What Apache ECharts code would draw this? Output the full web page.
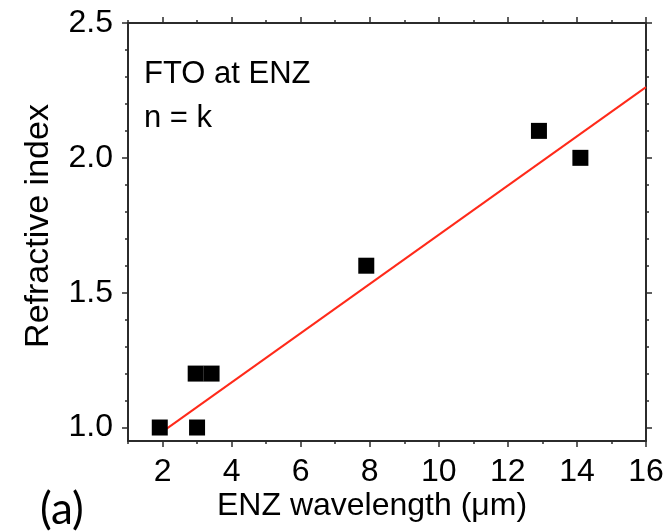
<!DOCTYPE html>
<html>
<head>
<meta charset="utf-8">
<script src="https://cdn.jsdelivr.net/npm/echarts@6/dist/echarts.min.js"></script>
<style>
html,body{margin:0;padding:0;background:#fff;}
#chart{width:668px;height:531px;}
</style>
</head>
<body>
<div id="chart"></div>
<script>
// Data
var pointsX = [1.92, 3.0, 2.96, 3.42, 7.9, 12.9, 14.1];
var pointsY = [1.0, 1.0, 1.2, 1.2, 1.6, 2.1, 2.0];
var fitX = [2.0, 16.0];
var fitY = [0.985, 2.262];

var xMajorTicks = [2, 4, 6, 8, 10, 12, 14, 16];
var xMinorTicks = [1, 3, 5, 7, 9, 11, 13, 15];
var yMajorTicks = [1.0, 1.5, 2.0, 2.5];
var yMinorTicks = [1.1, 1.2, 1.3, 1.4, 1.6, 1.7, 1.8, 1.9, 2.1, 2.2, 2.3, 2.4];

var xTitle = 'ENZ wavelength (\u03bcm)';
var yTitle = 'Refractive index';
var note1 = 'FTO at ENZ';
var note2 = 'n = k';
var panel = '(a)';

var FONT = 'Liberation Sans, Arial, sans-serif';
var AX = '#2b2b2b';

var scatterData = pointsX.map(function (x, i) { return [x, pointsY[i]]; });
var lineData = fitX.map(function (x, i) { return [x, fitY[i]]; });

var chart = echarts.init(document.getElementById('chart'), null, {renderer: 'canvas'});

function xAxisBase(pos, ticks, len, showLabel, showLine) {
  return {
    type: 'value', position: pos, min: 1, max: 16,
    axisLine: {show: showLine, onZero: false, lineStyle: {color: AX, width: 2}},
    axisTick: {show: true, inside: false, length: len, customValues: ticks, lineStyle: {color: AX, width: 1.5}},
    axisLabel: {show: showLabel, customValues: xMajorTicks, margin: 15, color: '#000', fontSize: 32, fontFamily: FONT,
      formatter: function (v) { return String(v); }},
    splitLine: {show: false}
  };
}
function yAxisBase(pos, ticks, len, showLabel, showLine) {
  return {
    type: 'value', position: pos, min: 0.95, max: 2.5,
    axisLine: {show: showLine, onZero: false, lineStyle: {color: AX, width: 2}},
    axisTick: {show: true, inside: false, length: len, customValues: ticks, lineStyle: {color: AX, width: 1.5}},
    axisLabel: {show: showLabel, customValues: yMajorTicks, margin: 15, color: '#000', fontSize: 32, fontFamily: FONT,
      formatter: function (v) { return v.toFixed(1); }},
    splitLine: {show: false}
  };
}

var option = {
  backgroundColor: '#fff',
  animation: false,
  grid: {left: 128, right: 22, top: 23, bottom: 90, containLabel: false},
  xAxis: [
    xAxisBase('bottom', xMajorTicks, 6, true, true),
    xAxisBase('bottom', xMinorTicks, 3, false, false),
    xAxisBase('top', xMajorTicks, 6, false, true),
    xAxisBase('top', xMinorTicks, 3, false, false)
  ],
  yAxis: [
    yAxisBase('left', yMajorTicks, 6, true, true),
    yAxisBase('left', yMinorTicks, 3, false, false),
    yAxisBase('right', yMajorTicks, 6, false, true),
    yAxisBase('right', yMinorTicks, 3, false, false)
  ],
  series: [
    {
      type: 'line', data: lineData, xAxisIndex: 0, yAxisIndex: 0,
      showSymbol: false, symbol: 'none',
      lineStyle: {color: '#ff2a1a', width: 2},
      z: 2
    },
    {
      type: 'scatter', data: scatterData, xAxisIndex: 0, yAxisIndex: 0,
      symbol: 'rect', symbolSize: 16,
      itemStyle: {color: '#000', opacity: 1},
      z: 3
    }
  ],
  graphic: [
    {type: 'text', left: 144, top: 59, style: {text: note1, font: '31px ' + FONT, fill: '#000'}},
    {type: 'text', left: 144, top: 103, style: {text: note2, font: '31px ' + FONT, fill: '#000'}},
    {type: 'text', left: 217, top: 490, style: {text: xTitle, font: '32px ' + FONT, fill: '#000'}},
    {type: 'text', x: 39, y: 226, rotation: Math.PI / 2,
      style: {text: yTitle, font: '34px ' + FONT, fill: '#000', align: 'center', verticalAlign: 'middle'}},
    {type: 'text', left: 40, top: 488, style: {text: panel, font: '44px Lato, "Noto Sans", sans-serif', fill: '#000'}}
  ]
};
chart.setOption(option);
</script>
</body>
</html>
